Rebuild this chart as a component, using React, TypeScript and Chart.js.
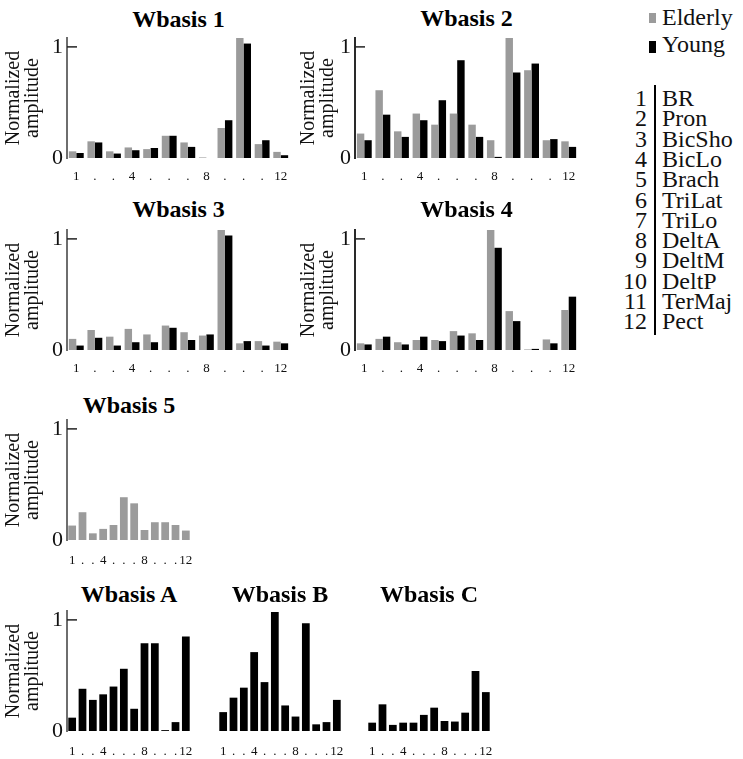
import React, { useEffect, useRef } from "react";
import { Chart, registerables } from "chart.js";

Chart.register(...registerables);

// ---- data ----
const tickLabels = ["1", ".", ".", "4", ".", ".", ".", "8", ".", ".", ".", "12"];
const yTicks = [0, 1];
const muscleNames = [
  "BR", "Pron", "BicSho", "BicLo", "Brach", "TriLat",
  "TriLo", "DeltA", "DeltM", "DeltP", "TerMaj", "Pect",
];

const w1Elderly = [0.06, 0.15, 0.06, 0.095, 0.08, 0.2, 0.14, 0.005, 0.27, 1.08, 0.125, 0.055];
const w1Young = [0.045, 0.14, 0.04, 0.07, 0.09, 0.2, 0.1, 0, 0.34, 1.03, 0.16, 0.025];
const w2Elderly = [0.22, 0.61, 0.24, 0.4, 0.3, 0.4, 0.3, 0.16, 1.08, 0.79, 0.16, 0.15];
const w2Young = [0.16, 0.39, 0.19, 0.34, 0.52, 0.88, 0.19, 0.01, 0.77, 0.85, 0.17, 0.1];
const w3Elderly = [0.1, 0.18, 0.12, 0.19, 0.14, 0.22, 0.16, 0.13, 1.08, 0.06, 0.08, 0.075];
const w3Young = [0.04, 0.11, 0.04, 0.07, 0.07, 0.2, 0.09, 0.14, 1.03, 0.08, 0.04, 0.06];
const w4Elderly = [0.06, 0.1, 0.07, 0.09, 0.09, 0.17, 0.15, 1.08, 0.35, 0.005, 0.095, 0.36];
const w4Young = [0.05, 0.12, 0.05, 0.12, 0.08, 0.13, 0.09, 0.92, 0.26, 0.01, 0.06, 0.48];
const w5Elderly = [0.13, 0.25, 0.06, 0.1, 0.135, 0.385, 0.33, 0.09, 0.16, 0.16, 0.135, 0.085];
const wA = [0.12, 0.38, 0.28, 0.33, 0.4, 0.56, 0.2, 0.79, 0.79, 0.008, 0.08, 0.85];
const wB = [0.17, 0.3, 0.39, 0.71, 0.44, 1.07, 0.23, 0.13, 0.97, 0.06, 0.08, 0.28];
const wC = [0.075, 0.24, 0.055, 0.075, 0.075, 0.145, 0.21, 0.09, 0.085, 0.165, 0.54, 0.35];

// ---- styling ----
const FONT = "'Liberation Serif', 'Times New Roman', serif";
const GREY = "#9b9b9b";
const BLACK = "#000000";
const TEXT = "#111111";
const PLOT_H = 120;
const PAD_TOP = 14;
const PAD_RIGHT = 4;
const X_AXIS_H = 34;

type Series = { label: string; data: number[]; color: string };

interface PanelProps {
  title: string;
  series: Series[];
  axisX: number; // left edge of plot area
  plotTop: number;
  plotWidth: number;
  yAxisW: number; // 0 = no y axis
  axisColor?: string;
  yTitlePad?: number;
  tickPad: number;
  catPct: number;
  titleBaseline: number;
}

// short tick mark pointing into the plot at value 1
const innerTick = {
  id: "innerTick",
  afterDraw(chart: any) {
    const y = chart.scales.y;
    if (!y || !y.options.display) return;
    const py = y.getPixelForValue(1);
    const { ctx, chartArea } = chart;
    ctx.save();
    ctx.strokeStyle = "#222";
    ctx.lineWidth = 1.5;
    ctx.beginPath();
    ctx.moveTo(chartArea.left, py);
    ctx.lineTo(chartArea.left + 10, py);
    ctx.stroke();
    ctx.restore();
  },
};

const Panel: React.FC<PanelProps> = ({
  title,
  series,
  axisX,
  plotTop,
  plotWidth,
  yAxisW,
  axisColor = "#666",
  yTitlePad = 4,
  tickPad,
  catPct,
  titleBaseline,
}) => {
  const canvasRef = useRef<HTMLCanvasElement>(null);
  const left = axisX - yAxisW;
  const top = plotTop - PAD_TOP;
  const width = yAxisW + plotWidth + PAD_RIGHT;
  const height = PAD_TOP + PLOT_H + X_AXIS_H;
  const showAxis = yAxisW > 0;

  useEffect(() => {
    if (!canvasRef.current) return;
    const chart = new Chart(canvasRef.current, {
      type: "bar",
      data: {
        labels: tickLabels,
        datasets: series.map((s) => ({
          label: s.label,
          data: s.data,
          backgroundColor: s.color,
          borderWidth: 0,
          categoryPercentage: catPct,
          barPercentage: 1,
        })),
      },
      options: {
        animation: false,
        responsive: false,
        events: [],
        layout: { padding: { top: PAD_TOP, right: PAD_RIGHT, left: 0, bottom: 0 } },
        plugins: {
          legend: { display: false },
          tooltip: { enabled: false },
          title: { display: false },
        },
        datasets: { bar: { clip: false } as any },
        scales: {
          x: {
            grid: { display: false, drawTicks: false },
            border: { display: false },
            ticks: {
              autoSkip: false,
              maxRotation: 0,
              minRotation: 0,
              padding: tickPad,
              color: TEXT,
              font: { family: FONT, size: 13 },
            },
            afterFit: (s: any) => {
              s.height = X_AXIS_H;
              s.paddingLeft = 0;
              s.paddingRight = 0;
            },
          },
          y: {
            display: showAxis,
            min: 0,
            max: 1.08,
            afterBuildTicks: (s: any) => {
              s.ticks = yTicks.map((v) => ({ value: v }));
            },
            grid: { display: false, drawTicks: false },
            border: { display: true, color: axisColor, width: 2 },
            ticks: {
              padding: 4,
              color: TEXT,
              font: { family: FONT, size: 22 },
            },
            title: {
              display: true,
              text: ["Normalized", "amplitude"],
              color: TEXT,
              font: { family: FONT, size: 20, lineHeight: 0.95 },
              padding: { top: yTitlePad, bottom: 0 },
            },
            afterFit: (s: any) => {
              s.width = yAxisW;
              s.paddingTop = 0;
              s.paddingBottom = 0;
            },
          },
        },
      } as any,
      plugins: [innerTick],
    });
    return () => chart.destroy();
  }, []);

  const center = axisX + plotWidth / 2;
  return (
    <>
      <div
        style={{
          position: "absolute",
          left: center - 110,
          top: titleBaseline - 20,
          width: 220,
          textAlign: "center",
          font: `bold 24px/24px ${FONT}`,
          color: BLACK,
          whiteSpace: "nowrap",
        }}
      >
        {title}
      </div>
      <canvas
        ref={canvasRef}
        width={width}
        height={height}
        style={{ position: "absolute", left, top }}
      />
    </>
  );
};

const elderly = (data: number[]): Series => ({ label: "Elderly", data, color: GREY });
const young = (data: number[]): Series => ({ label: "Young", data, color: BLACK });
const single = (data: number[]): Series => ({ label: "Wbasis", data, color: BLACK });

const Legend: React.FC = () => {
  const rowTop = 88;
  const rowH = 20.3;
  const text: React.CSSProperties = {
    position: "absolute",
    font: `24px/20.3px ${FONT}`,
    color: TEXT,
    whiteSpace: "nowrap",
  };
  return (
    <>
      <div style={{ position: "absolute", left: 649, top: 13, width: 7, height: 10, background: GREY }} />
      <div style={{ ...text, left: 662, top: 7 }}>Elderly</div>
      <div style={{ position: "absolute", left: 649, top: 41, width: 7, height: 12, background: BLACK }} />
      <div style={{ ...text, left: 662, top: 34 }}>Young</div>
      <div style={{ position: "absolute", left: 654, top: 85, width: 2, height: 250, background: BLACK }} />
      {muscleNames.map((name, i) => (
        <React.Fragment key={name}>
          <div style={{ ...text, left: 600, width: 47, textAlign: "right", top: rowTop + i * rowH }}>
            {i + 1}
          </div>
          <div style={{ ...text, left: 662, top: rowTop + i * rowH }}>{name}</div>
        </React.Fragment>
      ))}
    </>
  );
};

export default function App() {
  const top = { plotWidth: 223, tickPad: 11, catPct: 0.8 };
  const bottom = { plotWidth: 124, tickPad: 13, catPct: 0.75 };
  return (
    <div
      style={{
        position: "absolute",
        left: 0,
        top: 0,
        width: 743,
        height: 759,
        background: "#fff",
        overflow: "hidden",
      }}
    >
      <Panel title="Wbasis 1" series={[elderly(w1Elderly), young(w1Young)]} axisX={67} plotTop={38} yAxisW={67} axisColor="#6e6e6e" yTitlePad={4} titleBaseline={27} {...top} />
      <Panel title="Wbasis 2" series={[elderly(w2Elderly), young(w2Young)]} axisX={355} plotTop={38} yAxisW={66} axisColor="#2a2a2a" yTitlePad={10} titleBaseline={26} {...top} />
      <Panel title="Wbasis 3" series={[elderly(w3Elderly), young(w3Young)]} axisX={67} plotTop={230} yAxisW={67} axisColor="#6e6e6e" yTitlePad={4} titleBaseline={217} {...top} />
      <Panel title="Wbasis 4" series={[elderly(w4Elderly), young(w4Young)]} axisX={355} plotTop={230} yAxisW={66} axisColor="#2a2a2a" yTitlePad={10} titleBaseline={217} {...top} />
      <Panel title="Wbasis 5" series={[elderly(w5Elderly)]} axisX={67} plotTop={420} yAxisW={67} axisColor="#6e6e6e" yTitlePad={4} titleBaseline={413} {...bottom} />
      <Panel title="Wbasis A" series={[single(wA)]} axisX={67} plotTop={611} yAxisW={67} axisColor="#6e6e6e" yTitlePad={4} titleBaseline={602} {...bottom} />
      <Panel title="Wbasis B" series={[single(wB)]} axisX={218} plotTop={611} yAxisW={0} titleBaseline={602} {...bottom} />
      <Panel title="Wbasis C" series={[single(wC)]} axisX={367} plotTop={611} yAxisW={0} titleBaseline={602} {...bottom} />
      <Legend />
    </div>
  );
}
